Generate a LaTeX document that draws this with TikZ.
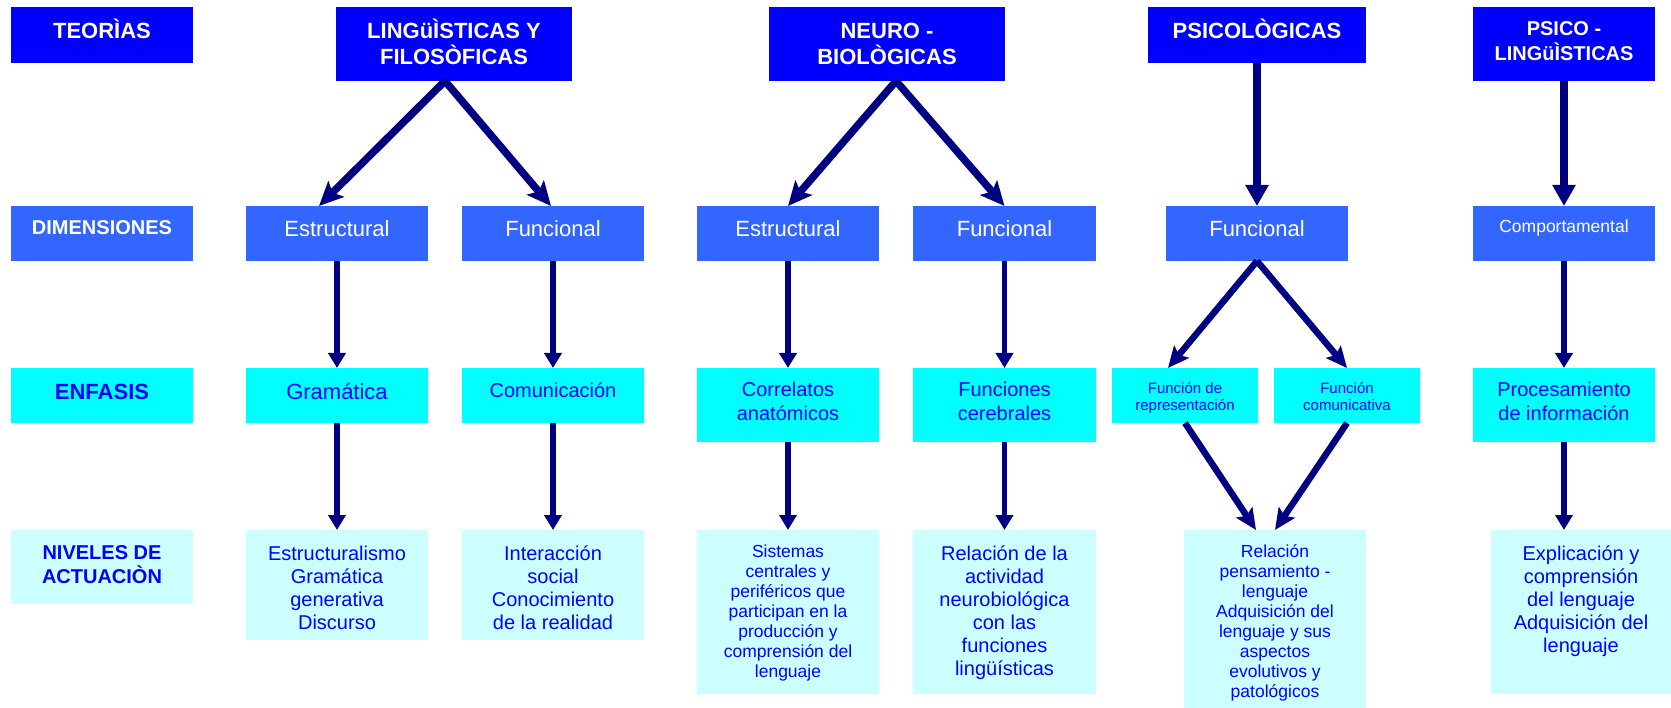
\documentclass[tikz,border=0pt]{standalone}
\usepackage{fontspec}
\setmainfont{Liberation Sans}
\usetikzlibrary{arrows.meta}
\definecolor{theoblue}{HTML}{0000FF}
\definecolor{dimblue}{HTML}{3366FF}
\definecolor{enfcyan}{HTML}{00FFFF}
\definecolor{nivcyan}{HTML}{CCFFFF}
\definecolor{arrownavy}{HTML}{000080}
\definecolor{inkblue}{HTML}{0000FF}
\newcommand\fsz[2]{\fontsize{#1pt}{#2pt}\selectfont}
\newcommand\topstrut{\rule{0pt}{1.05em}}
\begin{document}
\begin{tikzpicture}[x=1pt,y=-1pt,
  box/.style={anchor=north west, inner sep=0pt, outer sep=0pt, draw=none},
  theo/.style={box, fill=theoblue},
  dimbox/.style={box, fill=dimblue},
  enfbox/.style={box, fill=enfcyan},
  nivbox/.style={box, fill=nivcyan},
  lbl/.style={anchor=north, inner sep=0pt, outer sep=0pt, align=center},
  wbold/.style 2 args={lbl, text=white, font=\bfseries\fsz{#1}{#2}},
  bbold/.style 2 args={lbl, text=inkblue, font=\bfseries\fsz{#1}{#2}},
  bigarr/.style={draw=arrownavy, line width=7.5pt, -{Stealth[length=24pt,width=22pt,inset=5pt]}},
  bigvarr/.style={draw=arrownavy, line width=7.5pt, -{Triangle[length=21pt,width=22pt]}},
  midarr/.style={draw=arrownavy, line width=6.5pt, -{Stealth[length=21pt,width=19pt,inset=4pt]}},
  smallarr/.style={draw=arrownavy, line width=5.5pt, -{Triangle[length=15pt,width=17pt]}}
]
\useasboundingbox (0,0) rectangle (1671,708);

% ---------- row 1: theories ----------
\node[theo, minimum width=182pt, minimum height=56pt] (teo)   at (11,7) {};
\node[theo, minimum width=236pt, minimum height=74pt] (ling)  at (336,7) {};
\node[theo, minimum width=236pt, minimum height=74pt] (neuro) at (769,7) {};
\node[theo, minimum width=218pt, minimum height=56pt] (psic)  at (1148,7) {};
\node[theo, minimum width=182pt, minimum height=74pt] (psli)  at (1473,7) {};

\node[wbold={22}{26}] at (102,15.9)  {\topstrut TEORÌAS};
\node[wbold={22}{26}] at (454,15.9)  {\topstrut LINGüÌSTICAS Y\\FILOSÒFICAS};
\node[wbold={22}{26}] at (887,15.9)  {\topstrut NEURO -\\BIOLÒGICAS};
\node[wbold={22}{26}] at (1257,15.9) {\topstrut PSICOLÒGICAS};
\node[wbold={20}{24.5}] at (1564,15) {\topstrut PSICO -\\LINGüÌSTICAS};

% ---------- row 2: dimensions ----------
\node[dimbox, minimum width=182pt, minimum height=55pt] (dim) at (11,206) {};
\node[dimbox, minimum width=182pt, minimum height=55pt] (d1)  at (246,206) {};
\node[dimbox, minimum width=182pt, minimum height=55pt] (d2)  at (462,206) {};
\node[dimbox, minimum width=182pt, minimum height=55pt] (d3)  at (697,206) {};
\node[dimbox, minimum width=183pt, minimum height=55pt] (d4)  at (913,206) {};
\node[dimbox, minimum width=182pt, minimum height=55pt] (d5)  at (1166,206) {};
\node[dimbox, minimum width=182pt, minimum height=55pt] (d6)  at (1473,206) {};

\node[wbold={20}{24}] at (102,214) {\topstrut DIMENSIONES};
\begin{scope}[every node/.style={lbl, text=white, font=\fsz{22}{26}}]
  \node at (337,213)    {\topstrut Estructural};
  \node at (553,213)    {\topstrut Funcional};
  \node at (788,213)    {\topstrut Estructural};
  \node at (1004.5,213) {\topstrut Funcional};
  \node at (1257,213)   {\topstrut Funcional};
\end{scope}
\node[lbl, text=white, font=\fsz{17.5}{20}] at (1564,214.6) {\topstrut Comportamental};

% ---------- row 3: emphasis ----------
\node[enfbox, minimum width=182pt, minimum height=55pt] (enf) at (11,368) {};
\node[enfbox, minimum width=182pt, minimum height=55pt] (e1)  at (246,368) {};
\node[enfbox, minimum width=182pt, minimum height=55pt] (e2)  at (462,368) {};
\node[enfbox, minimum width=182pt, minimum height=74pt] (e3)  at (697,368) {};
\node[enfbox, minimum width=183pt, minimum height=74pt] (e4)  at (913,368) {};
\node[enfbox, minimum width=146pt, minimum height=55pt] (e5a) at (1112,368) {};
\node[enfbox, minimum width=146pt, minimum height=55pt] (e5b) at (1274,368) {};
\node[enfbox, minimum width=182pt, minimum height=74pt] (e6)  at (1473,368) {};

\node[bbold={22}{26}] at (102,376.9) {\topstrut ENFASIS};
\node[lbl, text=inkblue, font=\fsz{22}{26}] at (337,376.9) {\topstrut Gramática};
\begin{scope}[every node/.style={lbl, text=inkblue, font=\fsz{20}{23.5}}]
  \node at (553,377)    {\topstrut Comunicación};
  \node at (788,376)    {\topstrut Correlatos\\anatómicos};
  \node at (1004.5,376) {\topstrut Funciones\\cerebrales};
  \node at (1564,376)   {\topstrut Procesamiento\\de información};
\end{scope}
\begin{scope}[every node/.style={lbl, text=inkblue, font=\fsz{15}{17}}]
  \node at (1185,377.25) {\topstrut Función de\\representación};
  \node at (1347,377.25) {\topstrut Función\\comunicativa};
\end{scope}

% ---------- row 4: levels ----------
\node[nivbox, minimum width=182pt, minimum height=74pt]  (niv) at (11,530) {};
\node[nivbox, minimum width=182pt, minimum height=110pt] (n1)  at (246,530) {};
\node[nivbox, minimum width=182pt, minimum height=110pt] (n2)  at (462,530) {};
\node[nivbox, minimum width=182pt, minimum height=164pt] (n3)  at (697,530) {};
\node[nivbox, minimum width=183pt, minimum height=164pt] (n4)  at (913,530) {};
\node[nivbox, minimum width=182pt, minimum height=178pt] (n5)  at (1184,530) {};
\node[nivbox, minimum width=180pt, minimum height=164pt] (n6)  at (1491,530) {};

\node[bbold={20}{24.6}] at (102,538) {\topstrut NIVELES DE\\ACTUACIÒN};
\begin{scope}[every node/.style={lbl, text=inkblue, font=\fsz{20}{23}}]
  \node at (337,539)    {\topstrut Estructuralismo\\Gramática\\generativa\\Discurso};
  \node at (553,539)    {\topstrut Interacción\\social\\Conocimiento\\de la realidad};
  \node at (1004.5,539) {\topstrut Relación de la\\actividad\\neurobiológica\\con las\\funciones\\lingüísticas};
  \node at (1581,539)   {\topstrut Explicación y\\comprensión\\del lenguaje\\Adquisición del\\lenguaje};
\end{scope}
\begin{scope}[every node/.style={lbl, text=inkblue, font=\fsz{17.5}{20}}]
  \node at (788,539.6)  {\topstrut Sistemas\\centrales y\\periféricos que\\participan en la\\producción y\\comprensión del\\lenguaje};
  \node at (1275,539.6) {\topstrut Relación\\pensamiento -\\lenguaje\\Adquisición del\\lenguaje y sus\\aspectos\\evolutivos y\\patológicos};
\end{scope}

% ---------- connectors ----------
\draw[bigarr] ([xshift=-9pt]ling.south) -- ([xshift=-18pt]d1.north);
\draw[bigarr] ([xshift=-9pt]ling.south) -- ([xshift=-2pt]d2.north);
\draw[bigarr] ([xshift=9pt]neuro.south) -- (d3.north);
\draw[bigarr] ([xshift=9pt]neuro.south) -- (d4.north);
\draw[bigvarr] (psic.south) -- (d5.north);
\draw[bigvarr] (psli.south) -- (d6.north);

\draw[smallarr] (d1.south) -- (e1.north);
\draw[smallarr] (d2.south) -- (e2.north);
\draw[smallarr] (d3.south) -- (e3.north);
\draw[smallarr] (d4.south) -- (e4.north);
\draw[smallarr] (d6.south) -- (e6.north);

\draw[smallarr] (e1.south) -- (n1.north);
\draw[smallarr] (e2.south) -- (n2.north);
\draw[smallarr] (e3.south) -- (n3.north);
\draw[smallarr] (e4.south) -- (n4.north);
\draw[smallarr] (e6.south) -- ([xshift=-17pt]n6.north);

\draw[midarr] (d5.south) -- ([xshift=-17pt]e5a.north);
\draw[midarr] (d5.south) -- (e5b.north);
\draw[midarr] (e5a.south) -- ([xshift=-19pt]n5.north);
\draw[midarr] (e5b.south) -- (n5.north);
\end{tikzpicture}
\end{document}
